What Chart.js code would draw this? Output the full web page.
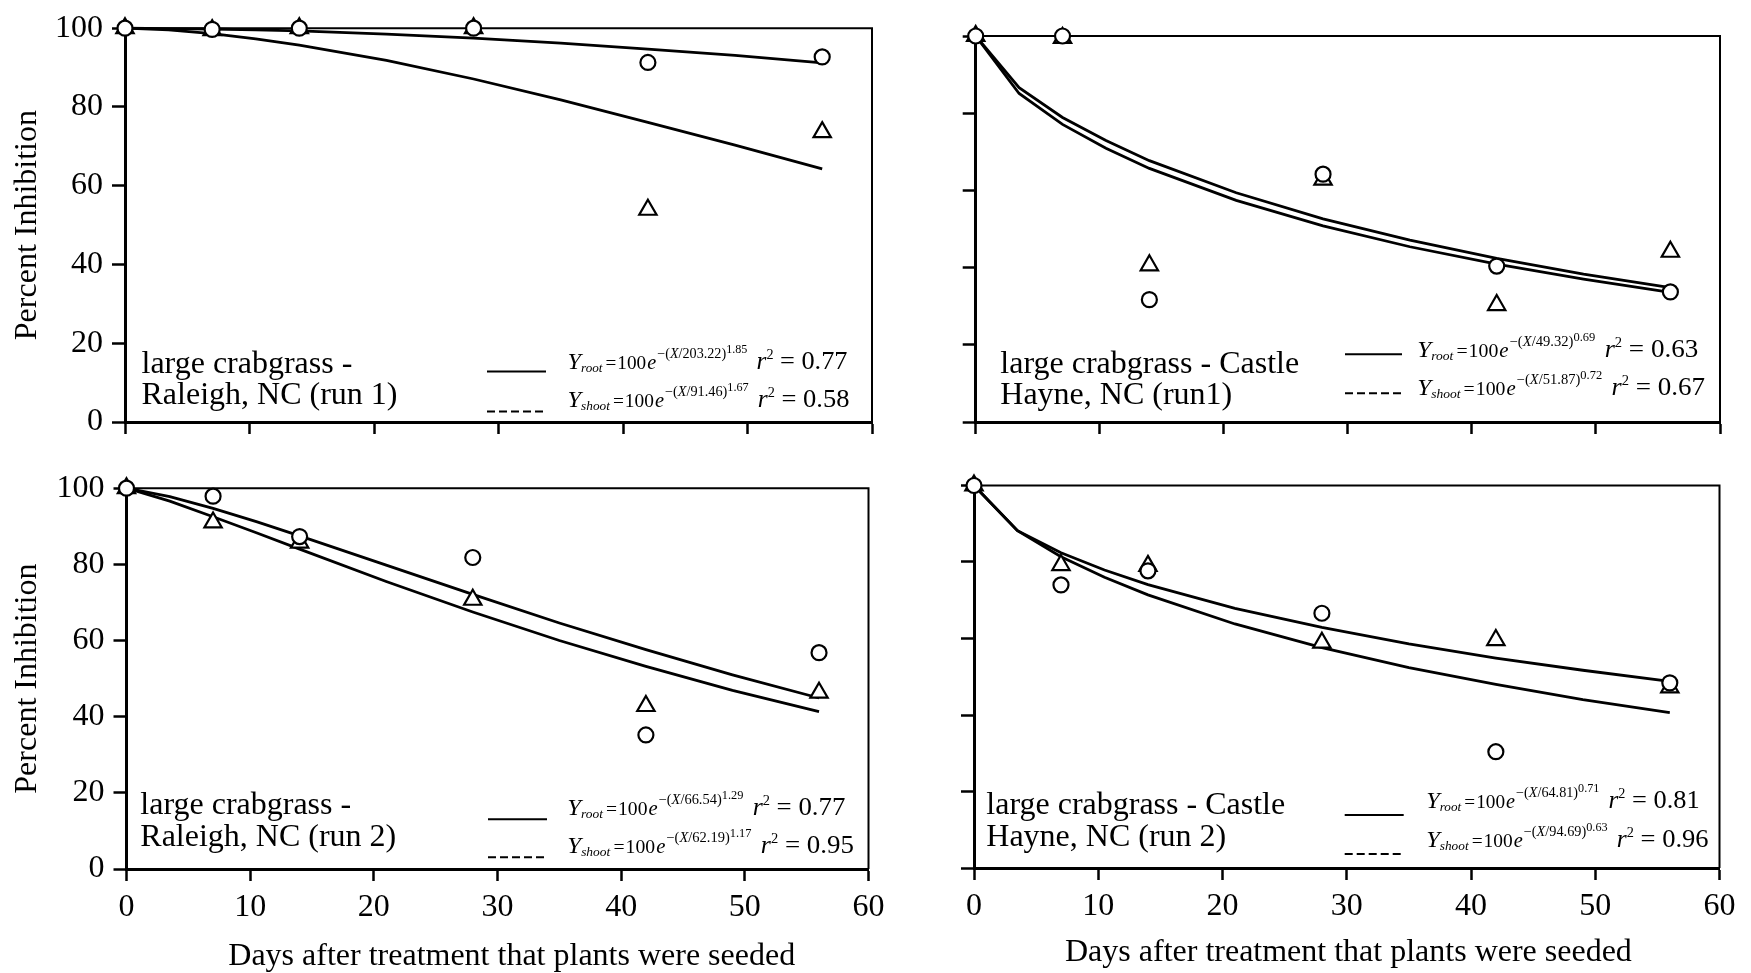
<!DOCTYPE html>
<html>
<head>
<meta charset="utf-8">
<title>Percent inhibition of large crabgrass</title>
<script src="https://cdn.jsdelivr.net/npm/chart.js@4.4.1/dist/chart.umd.min.js"></script>
<style>
  html, body { margin: 0; padding: 0; background: #fff; }
  #wrap { position: relative; width: 1751px; height: 973px; overflow: hidden; background: #fff; }
  #wrap canvas { position: absolute; }
</style>
</head>
<body>
<div id="wrap">
  <canvas id="ral1" width="900" height="460" style="left:0;top:0"></canvas>
  <canvas id="ch1" width="851" height="460" style="left:900px;top:0"></canvas>
  <canvas id="ral2" width="900" height="513" style="left:0;top:460px"></canvas>
  <canvas id="ch2" width="851" height="513" style="left:900px;top:460px"></canvas>
</div>
<script>
const SERIF = '"Liberation Serif", "Times New Roman", Times, serif';
const FONT_SIZE = 32;

// ── data ──
const obsDays = [0, 7, 14, 28, 42, 56];
const fitDays = [0, 3.5, 7, 10.5, 14, 21, 28, 35, 42, 49, 56];

// Raleigh, run 1
const ral1Circles   = [100, 99.7, 100, 100, 91.3, 92.7];
const ral1Triangles = [100, 99.5, 100, 100, 53.9, 73.6];
const ral1Root  = [100, 99.9, 99.8, 99.6, 99.3, 98.5, 97.5, 96.2, 94.7, 93.1, 91.2];
const ral1Shoot = [100, 99.6, 98.6, 97.3, 95.7, 91.8, 87.1, 81.8, 76.1, 70.3, 64.3];
const ral1Label = ['large crabgrass -', 'Raleigh, NC (run 1)'];
const ral1RootEq  = ['203.22', '1.85', '0.77'];
const ral1ShootEq = ['91.46', '1.67', '0.58'];

// Castle Hayne, run 1
const ch1Circles   = [100, 100, 31.7, 64.2, 40.4, 33.7];
const ch1Triangles = [100, 99.5, 40.6, 62.8, 30.3, 44.1];
const ch1Root  = [100, 85.1, 77.1, 70.9, 65.7, 57.4, 50.8, 45.4, 40.9, 37.0, 33.6];
const ch1Shoot = [100, 86.6, 78.9, 72.9, 67.7, 59.4, 52.6, 47.1, 42.4, 38.3, 34.8];
const ch1Label = ['large crabgrass - Castle', 'Hayne, NC (run1)'];
const ch1RootEq  = ['49.32', '0.69', '0.63'];
const ch1ShootEq = ['51.87', '0.72', '0.67'];

// Raleigh, run 2
const ral2Circles   = [100, 97.9, 87.3, 81.8, 35.2, 56.8];
const ral2Triangles = [100, 91.0, 85.7, 70.7, 42.8, 46.3];
const ral2Root  = [100, 97.8, 94.7, 91.2, 87.5, 79.8, 72.1, 64.6, 57.6, 51.0, 44.9];
const ral2Shoot = [100, 96.6, 92.5, 88.3, 84.0, 75.5, 67.5, 60.0, 53.2, 46.9, 41.3];
const ral2Label = ['large crabgrass -', 'Raleigh, NC (run 2)'];
const ral2RootEq  = ['66.54', '1.29', '0.77'];
const ral2ShootEq = ['62.19', '1.17', '0.95'];

// Castle Hayne, run 2
const ch2Circles   = [100, 74.0, 77.7, 66.6, 30.4, 48.4];
const ch2Triangles = [100, 79.2, 79.0, 58.9, 59.6, 47.2];
const ch2Root  = [100, 88.2, 81.4, 76.0, 71.4, 63.8, 57.6, 52.4, 48.0, 44.0, 40.6];
const ch2Shoot = [100, 88.2, 82.4, 77.9, 74.1, 67.9, 62.9, 58.6, 54.9, 51.7, 48.8];
const ch2Label = ['large crabgrass - Castle', 'Hayne, NC (run 2)'];
const ch2RootEq  = ['64.81', '0.71', '0.81'];
const ch2ShootEq = ['94.69', '0.63', '0.96'];

const X_TITLE = 'Days after treatment that plants were seeded';
const Y_TITLE = 'Percent Inhibition';

// ── helpers ──
const pts = (xs, ys) => xs.map((x, i) => ({ x, y: ys[i] }));

// Y_kind = 100 e^-(X/a)^b  r^2 = c, fitted to the given width
function drawEquation(ctx, x, y, width, kind, eq) {
    const [a, b, r2] = eq;
    const runs = [
        ['Y', 'italic 24px', 0, 0],
        [kind, 'italic 13px', 3, 3],
        ['=', '19px', 0, 1],
        ['100', '19px', 0, 1],
        ['e', 'italic 20px', 0, 1],
        ['\u2212(', '14px', -11, 0],
        ['X', 'italic 14px', -11, 0],
        ['/' + a + ')', '14px', -11, 0],
        [b, '12px', -16, 9],
        ['r', 'italic 25px', 0, 0],
        ['2', '14px', -10, 0],
        [' = ' + r2, '26px', 0, 0]
    ];
    let natural = 0;
    runs.forEach(r => { ctx.font = r[1] + ' ' + SERIF; natural += ctx.measureText(r[0]).width + r[3]; });
    ctx.save();
    ctx.translate(x, y);
    ctx.scale(width / natural, 1);
    let cx = 0;
    runs.forEach(r => {
        ctx.font = r[1] + ' ' + SERIF;
        ctx.fillText(r[0], cx, r[2]);
        cx += ctx.measureText(r[0]).width + r[3];
    });
    ctx.restore();
}

// top and right sides of the box
const boxFrame = {
    id: 'boxFrame',
    beforeDatasetsDraw(chart) {
        const { ctx, chartArea: a } = chart;
        ctx.save();
        ctx.strokeStyle = '#000';
        ctx.lineWidth = 2;
        ctx.beginPath();
        ctx.moveTo(a.left, a.top);
        ctx.lineTo(a.right, a.top);
        ctx.lineTo(a.right, a.bottom);
        ctx.stroke();
        ctx.restore();
    }
};

function panel(id, p) {
    const notes = {
        id: 'notes',
        afterDraw(chart) {
            const ctx = chart.ctx;
            const n = p.notes;
            ctx.save();
            ctx.fillStyle = '#000';
            ctx.textBaseline = 'alphabetic';
            ctx.textAlign = 'left';
            ctx.font = FONT_SIZE + 'px ' + SERIF;
            ctx.fillText(p.label[0], n.labelX, n.labelY[0]);
            ctx.fillText(p.label[1], n.labelX, n.labelY[1]);

            // x axis title, bottom row only
            if (n.titleX !== undefined) ctx.fillText(X_TITLE, n.titleX, n.titleY);

            // line samples
            ctx.strokeStyle = '#000';
            ctx.lineWidth = 2;
            ctx.beginPath();
            ctx.moveTo(n.lineX[0], n.lineY[0]);
            ctx.lineTo(n.lineX[1], n.lineY[0]);
            ctx.stroke();
            ctx.setLineDash([8, 4]);
            ctx.beginPath();
            ctx.moveTo(n.lineX[0], n.lineY[1]);
            ctx.lineTo(n.lineX[1], n.lineY[1]);
            ctx.stroke();
            ctx.setLineDash([]);

            drawEquation(ctx, n.eqX, n.eqY[0], n.eqW[0], 'root', p.rootEq);
            drawEquation(ctx, n.eqX, n.eqY[1], n.eqW[1], 'shoot', p.shootEq);
            ctx.restore();
        }
    };

    const fitLine = ys => ({
        type: 'line', data: pts(fitDays, ys),
        borderColor: '#000', borderWidth: 2.8, pointRadius: 0, tension: 0, fill: false, clip: false
    });

    return new Chart(document.getElementById(id), {
        type: 'scatter',
        data: {
            datasets: [
                {
                    data: pts(obsDays, p.circles), pointStyle: 'circle', pointRadius: 7.5,
                    borderColor: '#000', backgroundColor: '#fff', pointBorderWidth: 2.2, clip: false
                },
                {
                    data: pts(obsDays, p.triangles), pointStyle: 'triangle', pointRadius: 10,
                    borderColor: '#000', backgroundColor: '#fff', pointBorderWidth: 2.2, clip: false
                },
                fitLine(p.root),
                fitLine(p.shoot)
            ]
        },
        options: {
            responsive: false,
            animation: false,
            devicePixelRatio: 1,
            events: [],
            layout: { padding: p.pad },
            plugins: { legend: { display: false }, tooltip: { enabled: false } },
            scales: {
                x: {
                    type: 'linear', min: 0, max: 60,
                    ticks: {
                        stepSize: 10, display: p.showX, color: '#000', padding: 7,
                        maxRotation: 0, autoSkip: false, font: { family: SERIF, size: FONT_SIZE }
                    },
                    grid: { drawOnChartArea: false, drawTicks: true, tickLength: 12, tickWidth: 2.5, tickColor: '#000', color: '#000' },
                    border: { display: true, color: '#000', width: 3 },
                    afterFit: s => { s.height = p.xh; }
                },
                y: {
                    type: 'linear', min: 0, max: 100,
                    ticks: {
                        stepSize: 20, display: p.showY, color: '#000', padding: 9,
                        font: { family: SERIF, size: FONT_SIZE }
                    },
                    grid: { drawOnChartArea: false, drawTicks: true, tickLength: 13, tickWidth: 2.5, tickColor: '#000', color: '#000' },
                    border: { display: true, color: '#000', width: 3 },
                    title: {
                        display: p.showY, text: Y_TITLE, color: '#000',
                        font: { family: SERIF, size: FONT_SIZE }, padding: { top: 8, bottom: 0 }
                    },
                    afterFit: s => { s.width = p.yw; }
                }
            }
        },
        plugins: [boxFrame, notes]
    });
}

// ── panels ──
panel('ral1', {
    circles: ral1Circles, triangles: ral1Triangles, root: ral1Root, shoot: ral1Shoot,
    label: ral1Label, rootEq: ral1RootEq, shootEq: ral1ShootEq,
    showX: false, showY: true,
    pad: { left: 0, top: 25, right: 28, bottom: 0 }, yw: 125, xh: 38,
    notes: { labelX: 141.5, labelY: [372.5, 403.5], lineX: [487, 546], lineY: [371.5, 411.5],
             eqX: 567.5, eqY: [368.5, 406.5], eqW: [280, 282] }
});

panel('ch1', {
    circles: ch1Circles, triangles: ch1Triangles, root: ch1Root, shoot: ch1Shoot,
    label: ch1Label, rootEq: ch1RootEq, shootEq: ch1ShootEq,
    showX: false, showY: false,
    pad: { left: 0, top: 36, right: 31, bottom: 0 }, yw: 75.7, xh: 38,
    notes: { labelX: 100.3, labelY: [372.5, 403.5], lineX: [445, 502], lineY: [354.3, 393.3],
             eqX: 517.3, eqY: [356.7, 395], eqW: [281, 287.7] }
});

panel('ral2', {
    circles: ral2Circles, triangles: ral2Triangles, root: ral2Root, shoot: ral2Shoot,
    label: ral2Label, rootEq: ral2RootEq, shootEq: ral2ShootEq,
    showX: true, showY: true,
    pad: { left: 0, top: 25, right: 31.5, bottom: 0 }, yw: 126.5, xh: 104,
    notes: { labelX: 140.3, labelY: [354, 385.5], lineX: [488, 547], lineY: [359.3, 397.3],
             eqX: 567.3, eqY: [355, 393.3], eqW: [278, 286.7], titleX: 228.3, titleY: 505 }
});

panel('ch2', {
    circles: ch2Circles, triangles: ch2Triangles, root: ch2Root, shoot: ch2Shoot,
    label: ch2Label, rootEq: ch2RootEq, shootEq: ch2ShootEq,
    showX: true, showY: false,
    pad: { left: 0, top: 25.5, right: 31.5, bottom: 0 }, yw: 74, xh: 105,
    notes: { labelX: 86.3, labelY: [354, 385.5], lineX: [444.7, 503.7], lineY: [355, 394],
             eqX: 526.2, eqY: [348.3, 386.7], eqW: [273.4, 282.4], titleX: 165, titleY: 501 }
});
</script>
</body>
</html>
